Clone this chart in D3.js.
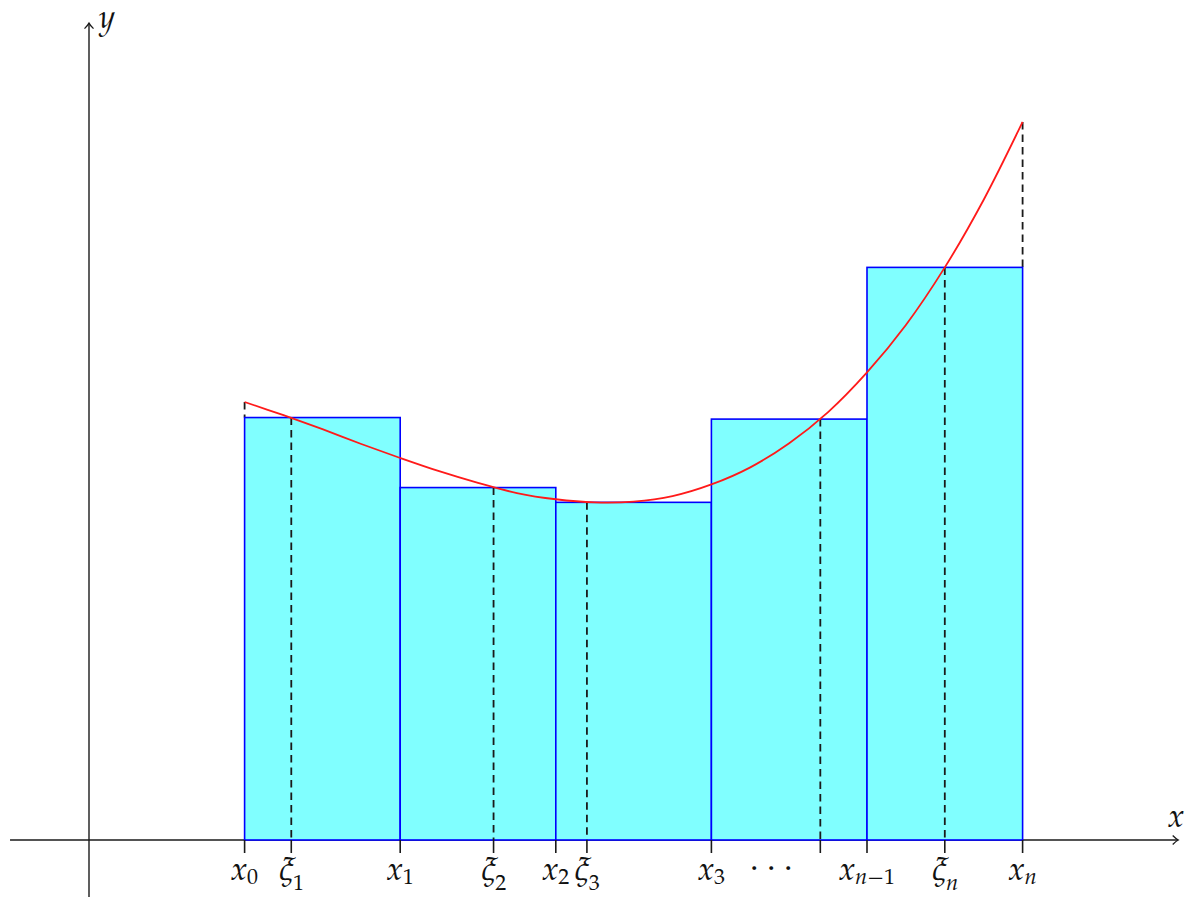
<!DOCTYPE html>
<html>
<head>
<meta charset="utf-8">
<script src="https://cdn.jsdelivr.net/npm/d3@7"></script>
<style>
  html, body { margin: 0; padding: 0; background: #ffffff; }
  svg { display: block; }
</style>
</head>
<body>
<svg id="chart"></svg>
<script>
// partition points x0..xn (x-units)
const partX = [2, 4, 6, 8, 10, 12];
// sample points xi_k used for each rectangle
const sampleX = [2.6, 5.2, 6.4, 9.4, 11];
// rectangle heights = f(xi_k)
const barHeights = [5.43, 4.53, 4.34, 5.41, 7.36];

// points
const curveX = [2, 2.5, 3, 3.5, 4, 4.5, 5, 5.5, 6, 6.5, 7, 7.5, 8, 8.5, 9, 9.5, 10, 10.5, 11, 11.5, 12];
const curveY = [5.63, 5.46, 5.28, 5.09, 4.91, 4.74, 4.59, 4.46, 4.38, 4.34, 4.35, 4.42, 4.57, 4.79, 5.10, 5.50, 6.01, 6.62, 7.36, 8.23, 9.23];

// tick positions and their labels (main symbol, subscript)
const tickX = [2, 2.6, 4, 5.2, 6, 6.4, 8, 9.4, 10, 11, 12];
const tickMain = ["x", "ξ", "x", "ξ", "x", "ξ", "x", "", "x", "ξ", "x"];
const tickSub = ["0", "1", "1", "2", "2", "3", "3", "", "n−1", "n", "n"];

// axis extents
const xAxisRange = [-1.015, 14.0];
const yAxisRange = [-0.74, 10.5];

const width = 1192;
const height = 897;
const fontFamily = '"TeX Gyre Pagella"';

const svg = d3.select("#chart")
    .attr("width", width)
    .attr("height", height)
    .style("background-color", "#ffffff");

const xScale = d3.scaleLinear().domain([0, 12]).range([89, 89 + 12 * 77.8]);
const yScale = d3.scaleLinear().domain([0, 1]).range([840, 840 - 77.8]);

const axisColor = "#1a1a1a";

// axes lines
svg.append("line")
    .attr("x1", xScale(xAxisRange[0])).attr("x2", xScale(xAxisRange[1]))
    .attr("y1", yScale(0)).attr("y2", yScale(0))
    .style("stroke", axisColor).style("stroke-width", 1.4);

svg.append("line")
    .attr("x1", xScale(0)).attr("x2", xScale(0))
    .attr("y1", yScale(yAxisRange[0])).attr("y2", yScale(yAxisRange[1]))
    .style("stroke", axisColor).style("stroke-width", 1.4);

// arrow heads
const xt = xScale(xAxisRange[1]), yt = yScale(0);
svg.append("path")
    .attr("d", `M${xt - 5.5},${yt - 4.5} Q${xt - 2},${yt - 1} ${xt},${yt} Q${xt - 2},${yt + 1} ${xt - 5.5},${yt + 4.5}`)
    .style("fill", "none").style("stroke", axisColor).style("stroke-width", 1.3);

const yx = xScale(0), yy = yScale(yAxisRange[1]);
svg.append("path")
    .attr("d", `M${yx - 4.5},${yy + 5.5} Q${yx - 1},${yy + 2} ${yx},${yy} Q${yx + 1},${yy + 2} ${yx + 4.5},${yy + 5.5}`)
    .style("fill", "none").style("stroke", axisColor).style("stroke-width", 1.3);

// dashed edges at x0 and xn from curve down to the rectangle top
const edgeDash = [
    { x: partX[0], top: curveY[0], bottom: barHeights[0] },
    { x: partX[partX.length - 1], top: curveY[curveY.length - 1], bottom: barHeights[barHeights.length - 1] }
];
svg.selectAll(".edge-dash")
    .data(edgeDash)
    .enter().append("line")
    .attr("class", "edge-dash")
    .attr("x1", d => xScale(d.x)).attr("x2", d => xScale(d.x))
    .attr("y1", d => yScale(d.top)).attr("y2", d => yScale(d.bottom))
    .style("stroke", "#1a1a1a").style("stroke-width", 1.8)
    .style("stroke-dasharray", "7.5,5");

// rectangles
const bars = barHeights.map((h, i) => ({ x0: partX[i], x1: partX[i + 1], h: h }));
svg.selectAll(".bar")
    .data(bars)
    .enter().append("rect")
    .attr("class", "bar")
    .attr("x", d => xScale(d.x0))
    .attr("y", d => yScale(d.h))
    .attr("width", d => xScale(d.x1) - xScale(d.x0))
    .attr("height", d => yScale(0) - yScale(d.h))
    .style("fill", "#80ffff")
    .style("stroke", "#0000ff")
    .style("stroke-width", 1.6);

// dashed verticals at sample points
svg.selectAll(".xi-dash")
    .data(sampleX)
    .enter().append("line")
    .attr("class", "xi-dash")
    .attr("x1", d => xScale(d)).attr("x2", d => xScale(d))
    .attr("y1", (d, i) => yScale(barHeights[i]))
    .attr("y2", yScale(0))
    .style("stroke", "#1a1a1a").style("stroke-width", 1.8)
    .style("stroke-dasharray", "7.5,5");

// curve
const pts = curveX.map((x, i) => [x, curveY[i]]);
const curveLine = d3.line()
    .x(d => xScale(d[0]))
    .y(d => yScale(d[1]))
    .curve(d3.curveCatmullRom.alpha(0.5));

svg.append("path")
    .datum(pts)
    .attr("d", curveLine)
    .style("fill", "none")
    .style("stroke", "#ff1a1a")
    .style("stroke-width", 1.8);

// ticks below the axis
svg.selectAll(".tick")
    .data(tickX)
    .enter().append("line")
    .attr("class", "tick")
    .attr("x1", d => xScale(d)).attr("x2", d => xScale(d))
    .attr("y1", yScale(0)).attr("y2", yScale(0) + 13)
    .style("stroke", axisColor).style("stroke-width", 1.6);

// tick labels
const labels = svg.selectAll(".tick-label")
    .data(tickX.map((x, i) => ({ x: x, main: tickMain[i], sub: tickSub[i] })).filter(d => d.main !== ""))
    .enter().append("text")
    .attr("class", "tick-label")
    .attr("x", d => xScale(d.x))
    .attr("y", 880)
    .attr("text-anchor", "middle")
    .style("font-family", fontFamily)
    .style("font-size", "32px")
    .style("fill", "#111");

labels.append("tspan")
    .style("font-style", "italic")
    .text(d => d.main);

labels.each(function(d) {
    const t = d3.select(this);
    const dy = d.main === "ξ" ? 10 : 4;
    if (d.sub === "n−1") {
        t.append("tspan").attr("dy", dy).style("font-size", "22px").style("font-style", "italic").text("n");
        t.append("tspan").style("font-size", "22px").text("−1");
    } else {
        t.append("tspan").attr("dy", dy).style("font-size", "22px")
            .style("font-style", d.sub === "n" ? "italic" : "normal")
            .text(d.sub);
    }
});

// dots between x3 and x_{n-1}
svg.append("text")
    .attr("x", xScale(8.77))
    .attr("y", 876)
    .attr("text-anchor", "middle")
    .style("font-family", fontFamily)
    .style("font-size", "32px")
    .style("fill", "#111")
    .text("· · ·");

// axis names
svg.append("text")
    .attr("x", 1168)
    .attr("y", 827)
    .style("font-family", fontFamily)
    .style("font-size", "32px")
    .style("font-style", "italic")
    .style("fill", "#111")
    .text("x");

svg.append("text")
    .attr("x", 99)
    .attr("y", 28)
    .style("font-family", fontFamily)
    .style("font-size", "32px")
    .style("font-style", "italic")
    .style("fill", "#111")
    .text("y");
</script>
</body>
</html>
